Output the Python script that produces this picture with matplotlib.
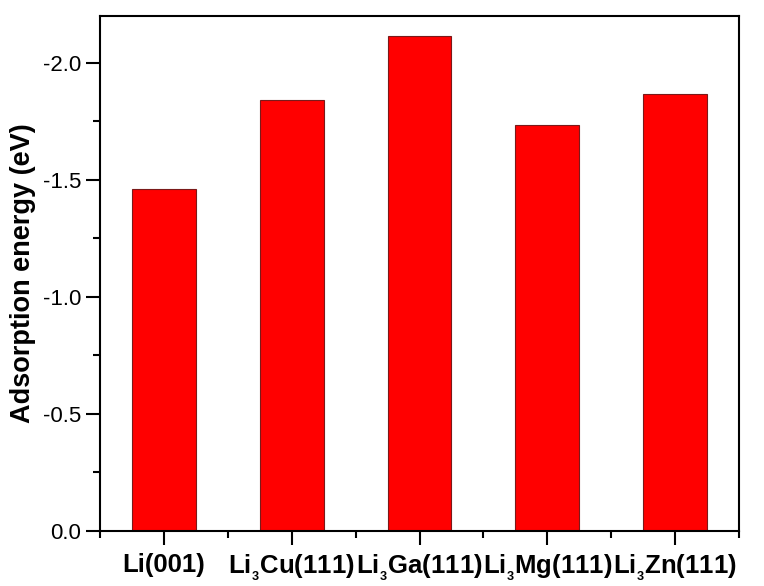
import matplotlib
matplotlib.use('Agg')
import matplotlib.pyplot as plt
import numpy as np
from matplotlib.ticker import MultipleLocator

plt.rcParams['font.family'] = 'Liberation Sans'
plt.rcParams['mathtext.default'] = 'regular'

sub3 = '$_{{}_{3}}$'
surfaces = ['Li(001)', 'Li' + sub3 + 'Cu(111)', 'Li' + sub3 + 'Ga(111)',
            'Li' + sub3 + 'Mg(111)', 'Li' + sub3 + 'Zn(111)']
energies = [-1.46, -1.84, -2.115, -1.735, -1.865]

fig = plt.figure(figsize=(7.64, 5.86), dpi=100)
ax = fig.add_axes([0.1309, 0.0939, 0.8364, 0.8788])

pos = np.arange(1, len(surfaces) + 1)
ax.bar(pos, energies, width=0.5, color='#ff0000', edgecolor='#7a1a1a', linewidth=0.8)

ax.set_xlim(0.5, 5.5)
ax.set_ylim(0, -2.2)  # energies grow upward
ax.set_xticks(pos)
ax.set_xticklabels(surfaces, fontsize=18.5, fontweight='bold')
ax.xaxis.set_minor_locator(MultipleLocator(1.0, offset=0.5))
ax.yaxis.set_major_locator(MultipleLocator(0.5))
ax.yaxis.set_minor_locator(MultipleLocator(0.25))
ax.yaxis.set_major_formatter(plt.FuncFormatter(lambda v, _: f'{v:.1f}' if abs(v) > 1e-9 else '0.0'))

ax.tick_params(which='major', direction='out', length=10, width=1.5, labelsize=16)
ax.tick_params(which='minor', direction='out', length=5, width=1.5)
ax.tick_params(axis='x', labelsize=18.5, pad=6)
for lbl in ax.get_xticklabels():
    lbl.set_fontweight('bold')

for s in ax.spines.values():
    s.set_linewidth(1.5)

ax.set_ylabel('Adsorption energy (eV)', fontsize=19.5, fontweight='bold', labelpad=5)

fig.savefig('out.png', dpi=100)
